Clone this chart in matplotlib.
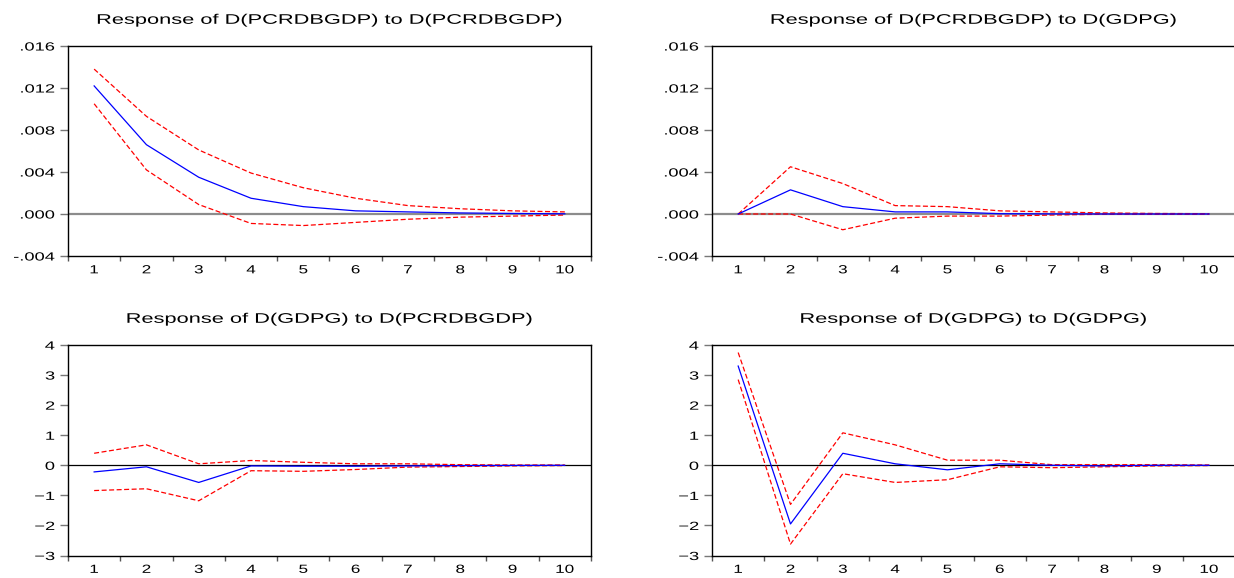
import numpy as np
import matplotlib
matplotlib.use("Agg")
import matplotlib.pyplot as plt
from matplotlib import patheffects
from matplotlib.transforms import Affine2D
from matplotlib.ticker import FixedLocator, FuncFormatter

plt.rcParams['font.family'] = ['Liberation Sans', 'DejaVu Sans']

periods = np.arange(1, 11)

# Response of D(PCRDBGDP) to D(PCRDBGDP)
pp_mid = [.0122, .0066, .0035, .0015, .0007, .0003, .0002, .0001, .00005, .00002]
pp_hi = [.0138, .0093, .0061, .0039, .0025, .0015, .0008, .0005, .0003, .0002]
pp_lo = [.0105, .0042, .0009, -.0009, -.0011, -.0008, -.0005, -.0003, -.0002, -.0001]

# Response of D(PCRDBGDP) to D(GDPG)
pg_mid = [0.0, .0023, .0007, .0002, .0002, .00003, .00001, 0.0, 0.0, 0.0]
pg_hi = [0.0, .0045, .0029, .0008, .0007, .0003, .0002, .0001, .00005, .00003]
pg_lo = [0.0, 0.0, -.0015, -.0004, -.0002, -.0002, -.0001, -.00002, -.00003, -.00002]

# Response of D(GDPG) to D(PCRDBGDP)
gp_mid = [-0.22, -0.05, -0.57, -0.02, -0.03, -0.03, -0.02, -0.01, -0.005, 0.0]
gp_hi = [0.40, 0.68, 0.05, 0.16, 0.10, 0.05, 0.05, 0.02, 0.01, 0.01]
gp_lo = [-0.84, -0.78, -1.18, -0.18, -0.20, -0.14, -0.06, -0.04, -0.02, -0.01]

# Response of D(GDPG) to D(GDPG)
gg_mid = [3.30, -1.95, 0.40, 0.05, -0.15, 0.05, 0.0, -0.02, 0.0, 0.0]
gg_hi = [3.75, -1.30, 1.08, 0.68, 0.17, 0.17, 0.02, 0.02, 0.02, 0.01]
gg_lo = [2.85, -2.62, -0.28, -0.57, -0.48, -0.05, -0.08, -0.05, -0.02, -0.01]

titles = ["Response of D(PCRDBGDP) to D(PCRDBGDP)",
          "Response of D(PCRDBGDP) to D(GDPG)",
          "Response of D(GDPG) to D(PCRDBGDP)",
          "Response of D(GDPG) to D(GDPG)"]

small_ticks = [-.004, .000, .004, .008, .012, .016]
big_ticks = [-3, -2, -1, 0, 1, 2, 3, 4]


class Stretch(patheffects.AbstractPathEffect):
    # widen glyphs horizontally (the original export is stretched sideways)
    def __init__(self, sx, anchor="center"):
        super().__init__()
        self.sx = sx
        self.anchor = anchor

    def draw_path(self, renderer, gc, tpath, affine, rgbFace=None):
        ext = tpath.get_extents()
        if self.anchor == "right":
            x0 = ext.x1
        elif self.anchor == "left":
            x0 = ext.x0
        else:
            x0 = (ext.x0 + ext.x1) / 2
        pre = Affine2D().translate(-x0, 0).scale(self.sx, 1).translate(x0, 0)
        renderer.draw_path(gc, tpath, pre + affine, rgbFace)


def small_fmt(v, pos):
    s = "%.3f" % v
    s = s.replace("0.", ".")
    if s == "-.000":
        s = ".000"
    return s


fig = plt.figure(figsize=(12.34, 5.78), dpi=100)

boxes = [[0.0551, 0.5571, 0.4238, 0.3633],
         [0.5770, 0.5571, 0.4240, 0.3633],
         [0.0551, 0.0389, 0.4238, 0.3642],
         [0.5770, 0.0389, 0.4240, 0.3642]]
series = [(pp_mid, pp_hi, pp_lo), (pg_mid, pg_hi, pg_lo),
          (gp_mid, gp_hi, gp_lo), (gg_mid, gg_hi, gg_lo)]

for i in range(4):
    ax = fig.add_axes(boxes[i])
    mid, hi, lo = series[i]
    top = i < 2
    if top:
        ax.axhline(0, color="#8c8c8c", lw=1.6, zorder=1)
    else:
        ax.axhline(0, color="black", lw=0.9, zorder=1)
    ax.plot(periods, hi, color="#ff0000", lw=0.9, ls=(0, (4, 2)), zorder=2)
    ax.plot(periods, lo, color="#ff0000", lw=0.9, ls=(0, (4, 2)), zorder=2)
    ax.plot(periods, mid, color="#0000ff", lw=0.9, zorder=3)
    ax.set_xlim(0.5, 10.5)
    if top:
        ax.set_ylim(-.004, .016)
        ax.yaxis.set_major_locator(FixedLocator(small_ticks))
        ax.yaxis.set_major_formatter(FuncFormatter(small_fmt))
    else:
        ax.set_ylim(-3, 4)
        ax.yaxis.set_major_locator(FixedLocator(big_ticks))
    ax.set_xticks(periods)
    ax.set_xticks(np.arange(0.5, 11, 1), minor=True)
    ax.tick_params(axis="x", which="major", length=0, pad=6, labelsize=8.5)
    ax.tick_params(axis="x", which="minor", length=3.5, width=1,
                   direction="out", color="#555555")
    ax.tick_params(axis="y", length=5.5, width=1, direction="out",
                   labelsize=8.5, pad=4, color="#777777")
    for lab in ax.get_xticklabels():
        lab.set_path_effects([Stretch(1.45, "center")])
    for lab in ax.get_yticklabels():
        lab.set_path_effects([Stretch(1.55, "right")])
    for sp in ax.spines.values():
        sp.set_linewidth(1.0)
    t = ax.set_title(titles[i], fontsize=10, pad=16)
    t.set_path_effects([Stretch(1.57, "center")])

fig.savefig("out.png", dpi=100)
